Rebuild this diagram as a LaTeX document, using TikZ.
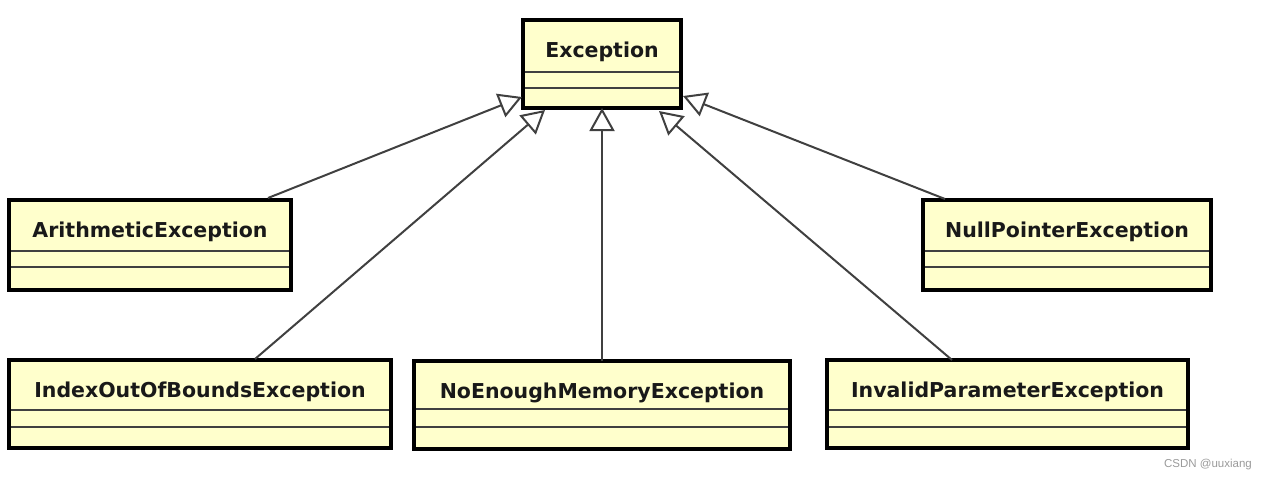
\documentclass[tikz,border=0pt]{standalone}
\usepackage{fontspec}
\newfontfamily\umlfont{DejaVu Sans}
\newfontfamily\markfont{Liberation Sans}
\usetikzlibrary{arrows.meta,calc}
\definecolor{umlfill}{HTML}{FFFFCC}
\definecolor{umlline}{HTML}{404040}
\definecolor{markgray}{HTML}{9A9A9A}
\tikzset{
  cls/.style={draw=black, line width=3.5pt, fill=umlfill, inner ysep=0pt, inner xsep=0pt,
    outer sep=0pt, text height=37pt, anchor=north west,
    font=\umlfont\bfseries\fontsize{20.5}{24}\selectfont, text=black!90},
  sepline/.style={draw=umlline, line width=1.6pt},
  inherit/.style={draw=umlline, line width=2pt,
    -{Triangle[fill=white, length=23pt, width=25pt]}}
}
\begin{document}
\begin{tikzpicture}[x=1pt,y=1pt]
\useasboundingbox (0,0) rectangle (1268,-479);
% class boxes
\node[cls, minimum width=158pt, text depth=51pt] (exc) at (523,-20) {Exception};
\node[cls, minimum width=282pt, text depth=53pt] (arith) at (9,-200) {ArithmeticException};
\node[cls, minimum width=288pt, text depth=53pt] (nullp) at (923,-200) {NullPointerException};
\node[cls, minimum width=382pt, text depth=51pt] (index) at (9,-360) {IndexOutOfBoundsException};
\node[cls, minimum width=376pt, text depth=51pt] (nomem) at (414,-361) {NoEnoughMemoryException};
\node[cls, minimum width=361pt, text depth=51pt] (invalid) at (827,-360) {InvalidParameterException};
% compartment separators
\foreach \n/\a/\b in {exc/52/68, arith/51/67, nullp/51/67, index/50/67, nomem/48/66, invalid/50/67}{
  \draw[sepline] ($(\n.north west)+(0,-\a)$) -- ($(\n.north east)+(0,-\a)$);
  \draw[sepline] ($(\n.north west)+(0,-\b)$) -- ($(\n.north east)+(0,-\b)$);
}
% redraw borders on top of separators
\foreach \n in {exc,arith,nullp,index,nomem,invalid}{
  \draw[line width=3.5pt] (\n.north west) rectangle (\n.south east);
}
% generalisation connectors
\draw[inherit] ($(arith.north west)+(259,2)$) -- ($(exc.north west)+(-1,-77)$);
\draw[inherit] ($(index.north west)+(246,1)$) -- ($(exc.south west)+(22,-2)$);
\draw[inherit] (nomem.north) -- (exc.south);
\draw[inherit] ($(invalid.north west)+(125,0)$) -- ($(exc.south east)+(-22,-3)$);
\draw[inherit] ($(nullp.north west)+(22,1)$) -- ($(exc.north east)+(2,-76)$);
% watermark
\node[anchor=base east, inner sep=0pt, text=markgray, font=\markfont\fontsize{11.5}{13}\selectfont] (mark) at (1252,-467) {CSDN @uuxiang};
\end{tikzpicture}
\end{document}
